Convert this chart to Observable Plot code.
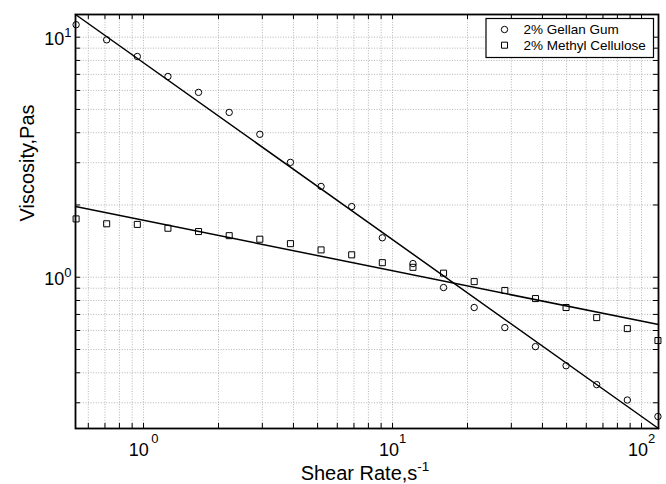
<!DOCTYPE html>
<html><head><meta charset="utf-8">
<script src="https://cdn.jsdelivr.net/npm/d3@7"></script>
<script src="https://cdn.jsdelivr.net/npm/@observablehq/plot@0.6"></script>
<style>
body{margin:0;background:#fff;}
#chart{width:666px;height:484px;}
</style></head><body><div id="chart"></div>
<script>
// ---- data ----
const shearRate = [0.536,0.711,0.944,1.253,1.663,2.208,2.931,3.890,5.164,6.855,9.099,12.08,16.03,21.28,28.25,37.50,49.77,66.07,87.70,116.4];
const gellanGum = [11.27,9.75,8.31,6.86,5.89,4.86,3.94,3.01,2.39,1.97,1.46,1.14,0.906,0.748,0.617,0.514,0.428,0.357,0.308,0.263];
const methylCellulose = [1.75,1.67,1.66,1.60,1.55,1.49,1.44,1.38,1.30,1.24,1.15,1.10,1.04,0.959,0.881,0.815,0.748,0.679,0.611,0.545];
const fitShearRate = [0.533, 117.0];
const gellanFit = [12.43, 0.2344];
const methylFit = [1.97, 0.635];
const seriesNames = ["2% Gellan Gum", "2% Methyl Cellulose"];
const xDomain = [0.533, 117.0];
const yDomain = [0.2344, 12.43];
const xGridTicks = [0.6,0.7,0.8,0.9,1,2,3,4,5,6,7,8,9,10,20,30,40,50,60,70,80,90,100];
const yGridTicks = [0.3,0.4,0.5,0.6,0.7,0.8,0.9,1,2,3,4,5,6,7,8,9,10];
const xMajorTicks = [1,10,100];
const xTickLabels = ["10^0","10^1","10^2"];
const yMajorTicks = [1,10];
const yTickLabels = ["10^0","10^1"];
const xLabel = "Shear Rate,s^-1";
const yLabel = "Viscosity,Pas";

// ---- layout ----
const W = 666, H = 484, mt = 14, mb = 56, ml = 75, mr = 8;
const fh = H - mt - mb, fw = W - ml - mr;
const FONT = "Liberation Sans, Arial, Helvetica, sans-serif";

const pts = shearRate.map((x, i) => ({x, g: gellanGum[i], m: methylCellulose[i]}));
const fitG = fitShearRate.map((x, i) => ({x, y: gellanFit[i]}));
const fitM = fitShearRate.map((x, i) => ({x, y: methylFit[i]}));
const xMaj = xMajorTicks.map((v, i) => ({v, t: xTickLabels[i]}));
const yMaj = yMajorTicks.map((v, i) => ({v, t: yTickLabels[i]}));

const gridStyle = {stroke: "#b4b4b4", strokeWidth: 1, strokeDasharray: "1,1.6"};

const chart = Plot.plot({
  width: W, height: H,
  marginTop: mt, marginBottom: mb, marginLeft: ml, marginRight: mr,
  x: {type: "log", domain: xDomain, axis: null},
  y: {type: "log", domain: yDomain, axis: null},
  style: {fontFamily: FONT, background: "#fff", color: "#000"},
  marks: [
    Plot.ruleX(xGridTicks, {x: d => d, ...gridStyle}),
    Plot.ruleY(yGridTicks, {y: d => d, ...gridStyle}),
    Plot.tickX(xGridTicks, {x: d => d, insetTop: fh - 5, stroke: "#000"}),
    Plot.tickX(xGridTicks, {x: d => d, insetBottom: fh - 5, stroke: "#000"}),
    Plot.tickY(yGridTicks, {y: d => d, insetRight: fw - 5, stroke: "#000"}),
    Plot.tickY(yGridTicks, {y: d => d, insetLeft: fw - 5, stroke: "#000"}),
    Plot.line(fitG, {x: "x", y: "y", stroke: "#000", strokeWidth: 1.5}),
    Plot.line(fitM, {x: "x", y: "y", stroke: "#000", strokeWidth: 1.5}),
    Plot.dot(pts, {x: "x", y: "g", symbol: "circle", r: 3.2, stroke: "#000", fill: "none", strokeWidth: 1}),
    Plot.dot(pts, {x: "x", y: "m", symbol: "square", r: 3.4, stroke: "#000", fill: "none", strokeWidth: 1}),
    Plot.frame({stroke: "#000", strokeWidth: 1.8}),
    Plot.text(xMaj, {x: "v", text: "t", frameAnchor: "bottom", lineAnchor: "bottom", dy: 27, fontSize: 18, fill: "#000"}),
    Plot.text(yMaj, {y: "v", text: "t", frameAnchor: "left", lineAnchor: "bottom", textAnchor: "end", dx: -4, dy: 7.6, fontSize: 18, fill: "#000"}),
    Plot.text([xLabel], {text: d => d, frameAnchor: "bottom", lineAnchor: "bottom", dy: 51, dx: -2, fontSize: 20, fill: "#000"}),
    Plot.text([yLabel], {text: d => d, frameAnchor: "left", lineAnchor: "bottom", rotate: -90, dx: -42, fontSize: 20, fill: "#000"})
  ]
});
document.getElementById("chart").appendChild(chart);

// ---- superscripts: turn "a^b" into a base text and a raised, smaller tspan ----
d3.select(chart).selectAll("text").each(function () {
  const t = d3.select(this);
  const s = t.text();
  const idx = s.indexOf("^");
  if (idx < 0) return;
  const base = s.slice(0, idx), sup = s.slice(idx + 1);
  let supSize = 13, supDy = -13, dx = 0;
  if (base === "10") {
    const isX = xTickLabels.includes(s) && t.attr("text-anchor") !== "end" && !this.closest("g[text-anchor='end']");
    if (isX) { supDy = -13; dx = sup === "0" ? 2.5 : 0; }
    else { supDy = -7.5; }
  } else { supSize = 13.5; supDy = -8.5; }
  t.text(null);
  t.append("tspan").text(base);
  t.append("tspan").attr("dy", supDy).attr("dx", dx).attr("font-size", supSize).text(sup);
});

// ---- legend ----
const svg = d3.select(chart);
const lg = svg.append("g").attr("font-family", FONT).attr("font-size", 13.5).attr("text-anchor", "start");
const lx = ml + fw - 172, ly = mt + 4.5;
lg.append("rect").attr("x", lx).attr("y", ly).attr("width", 167.5).attr("height", 39)
  .attr("fill", "#fff").attr("stroke", "#000").attr("stroke-width", 1.2);
const symbols = [d3.symbolCircle, d3.symbolSquare];
const radii = [3.2, 3.4];
seriesNames.forEach((name, i) => {
  const cy = ly + 11 + i * 15.7;
  lg.append("path")
    .attr("d", d3.symbol(symbols[i], Math.PI * radii[i] * radii[i])())
    .attr("transform", `translate(${lx + 18.5},${cy})`)
    .attr("fill", "none").attr("stroke", "#000");
  lg.append("text").attr("x", lx + 37.5).attr("y", cy + 4.8).attr("fill", "#000").text(name);
});
</script>
</body></html>
